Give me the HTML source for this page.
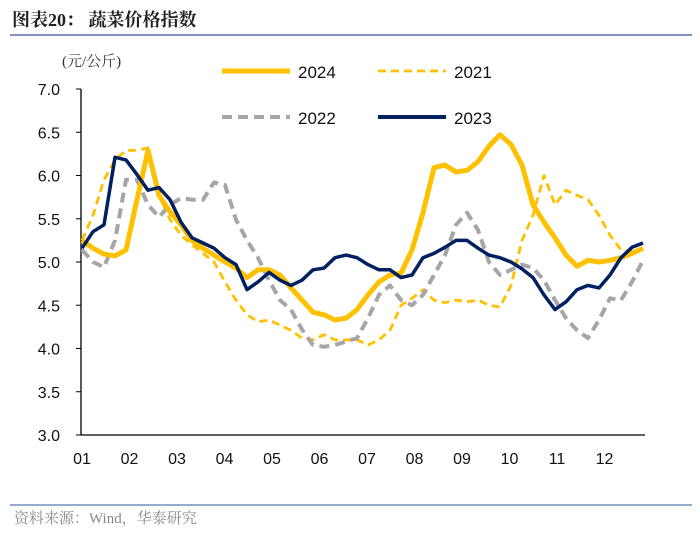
<!DOCTYPE html>
<html><head><meta charset="utf-8"><style>
body{margin:0;background:#fff;width:700px;height:535px;overflow:hidden;font-family:"Liberation Sans","Noto Sans CJK SC",sans-serif}
</style></head><body>
<svg id="c" width="700" height="535" xmlns="http://www.w3.org/2000/svg">
<text x="12" y="26" font-size="18" font-weight="bold" fill="#222" font-family="'Liberation Serif','Noto Serif CJK SC',serif">图表20：  蔬菜价格指数</text>
<line x1="10" y1="35" x2="692" y2="35" stroke="#2F5597" stroke-width="1.2"/>
<text x="62" y="66" font-size="15" fill="#333" font-family="'Liberation Serif','Noto Serif CJK SC',serif">(元/公斤)</text>
<g id="legend">
<line x1="222" y1="71" x2="290" y2="71" stroke="#FFC000" stroke-width="5"/>
<text x="298" y="78" font-size="17" fill="#111">2024</text>
<line x1="378" y1="71" x2="446" y2="71" stroke="#FFC000" stroke-width="2.8" stroke-dasharray="8,5"/>
<text x="454" y="78" font-size="17" fill="#111">2021</text>
<line x1="222" y1="117" x2="290" y2="117" stroke="#A6A6A6" stroke-width="4" stroke-dasharray="10,6"/>
<text x="298" y="124" font-size="17" fill="#111">2022</text>
<line x1="378" y1="117" x2="446" y2="117" stroke="#002060" stroke-width="4"/>
<text x="454" y="124" font-size="17" fill="#111">2023</text>
</g>
<g id="axes"></g>
<g id="series"></g>
<line x1="10" y1="505" x2="692" y2="505" stroke="#2F5597" stroke-width="1"/>
<text x="14" y="523" font-size="15" fill="#888" font-family="'Liberation Serif','Noto Serif CJK SC',serif">资料来源：Wind，华泰研究</text>
</svg>
<script>
const monthLabels=["01","02","03","04","05","06","07","08","09","10","11","12"];
const yTicks=[3.0,3.5,4.0,4.5,5.0,5.5,6.0,6.5,7.0];
const s2024=[5.25,5.16,5.09,5.07,5.14,5.72,6.29,5.77,5.58,5.43,5.25,5.16,5.08,5.00,4.93,4.82,4.91,4.91,4.85,4.70,4.56,4.42,4.39,4.33,4.35,4.45,4.62,4.77,4.85,4.87,5.14,5.57,6.09,6.12,6.04,6.06,6.16,6.34,6.47,6.36,6.12,5.66,5.46,5.28,5.08,4.95,5.02,5.00,5.02,5.05,5.10,5.16];
const s2021=[5.25,5.54,5.95,6.18,6.29,6.29,6.32,5.77,5.49,5.31,5.20,5.10,5.00,4.77,4.56,4.39,4.31,4.33,4.27,4.21,4.12,4.10,4.16,4.10,4.10,4.10,4.04,4.10,4.21,4.50,4.58,4.68,4.56,4.53,4.56,4.54,4.56,4.50,4.48,4.73,5.25,5.54,6.00,5.66,5.83,5.77,5.72,5.54,5.31,5.14,5.12,5.14];
const s2022=[5.14,5.00,4.94,5.25,5.95,5.95,5.66,5.52,5.66,5.74,5.72,5.72,5.92,5.89,5.49,5.25,5.05,4.79,4.56,4.45,4.22,4.04,4.02,4.04,4.08,4.12,4.35,4.62,4.73,4.56,4.50,4.62,4.85,5.08,5.43,5.57,5.37,5.00,4.85,4.91,4.97,4.93,4.79,4.56,4.35,4.21,4.12,4.33,4.58,4.56,4.77,5.02];
const s2023=[5.16,5.35,5.43,6.21,6.18,6.01,5.83,5.86,5.72,5.46,5.28,5.22,5.16,5.05,4.97,4.68,4.77,4.88,4.79,4.73,4.79,4.91,4.93,5.05,5.08,5.05,4.97,4.91,4.91,4.82,4.85,5.05,5.10,5.17,5.25,5.25,5.16,5.08,5.05,5.00,4.92,4.82,4.62,4.45,4.54,4.68,4.73,4.70,4.85,5.05,5.17,5.22];
const NS="http://www.w3.org/2000/svg";
const X0=82,X1=643,Y0=435,Y1=89,MSTEP=47.5;
function yS(v){return Y0-(v-3)/(7-3)*(Y0-Y1);}
function xW(i,n){return X0+i*(X1-X0)/(n-1);}
function xM(i){return X0+i*MSTEP;}
const ax=document.getElementById('axes');
function mk(tag,attrs,parent){const e=document.createElementNS(NS,tag);for(const k in attrs)e.setAttribute(k,attrs[k]);parent.appendChild(e);return e;}
const ya=mk('line',{x1:81,y1:Y1,x2:81,y2:Y0,stroke:'#000','stroke-width':1.3},ax);


const xa=mk('line',{x1:81,y1:Y0,x2:645,y2:Y0,stroke:'#000','stroke-width':1.3},ax);


yTicks.forEach(v=>{
 const t=mk('line',{x1:76,y1:yS(v),x2:81,y2:yS(v),stroke:'#000','stroke-width':1},ax);
 
 
 const l=mk('text',{x:60,y:yS(v)+6,'font-size':16,'text-anchor':'end',fill:'#111'},ax);
 l.textContent=v.toFixed(1);
 
 
});
monthLabels.forEach((m,i)=>{
 const l=mk('text',{x:xM(i),y:464,'font-size':16,'text-anchor':'middle',fill:'#111'},ax);
 l.textContent=m;
 
 
});
const sg=document.getElementById('series');
function draw(data,color,w,dash,name){
 const pts=data.map((v,i)=>xW(i,data.length).toFixed(1)+','+yS(v).toFixed(1)).join(' ');
 const p=mk('polyline',{points:pts,fill:'none',stroke:color,'stroke-width':w,'stroke-linejoin':'round'},sg);
 if(dash)p.setAttribute('stroke-dasharray',dash);
 
 
}
draw(s2021,'#FFC000',2.8,'8,5','line-2021');
draw(s2022,'#A6A6A6',4,'10,6','line-2022');
draw(s2024,'#FFC000',5,null,'line-2024');
draw(s2023,'#002060',3.5,null,'line-2023');
</script>
</body></html>
